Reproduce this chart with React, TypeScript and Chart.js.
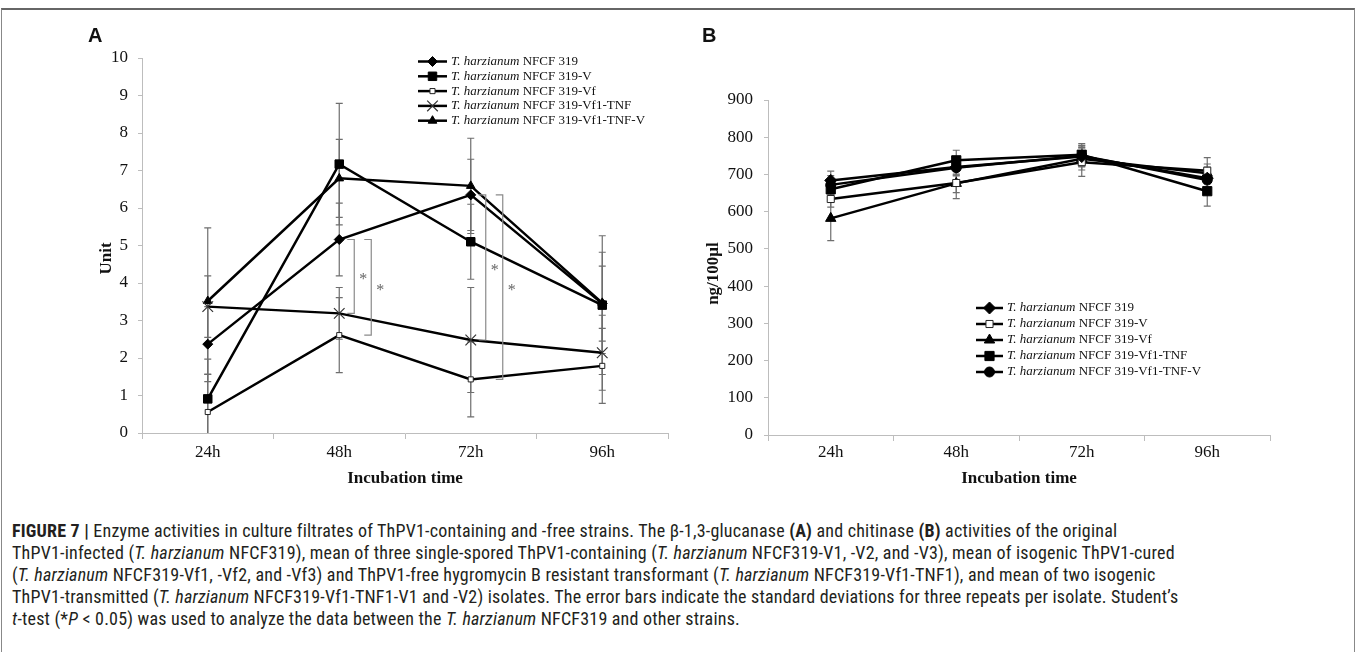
import React, { useEffect, useRef } from 'react';
import { Chart, registerables } from 'chart.js';
import { drawPoint } from 'chart.js/helpers';

Chart.register(...registerables);

const SERIF = "'Liberation Serif', 'Times New Roman', serif";
const PREFIX = 'T. harzianum';

// ---------- data ----------
const categories = ['24h', '48h', '72h', '96h'];

const seriesLabels = [
  'T. harzianum NFCF 319',
  'T. harzianum NFCF 319-V',
  'T. harzianum NFCF 319-Vf',
  'T. harzianum NFCF 319-Vf1-TNF',
  'T. harzianum NFCF 319-Vf1-TNF-V',
];

// Panel A: beta-1,3-glucanase (Unit)
const a319 = [2.37, 5.16, 6.35, 3.45];
const a319V = [0.91, 7.17, 5.1, 3.41];
const a319Vf = [0.56, 2.61, 1.43, 1.79];
const a319TNF = [3.37, 3.19, 2.48, 2.14];
const a319TNFV = [3.52, 6.79, 6.59, 3.47];

const sdA319 = [1.0, 0.97, 0.95, 1.0];
const sdA319V = [1.06, 1.62, 1.0, 1.85];
const sdA319Vf = [1.0, 1.0, 1.0, 1.0];
const sdA319TNF = [0.82, 0.69, 1.4, 1.0];
const sdA319TNFV = [1.95, 1.04, 1.27, 1.35];

// significance brackets: [category index, series index (top), series index (bottom)]
const sigA = [
  [1, 0, 3],
  [1, 0, 2],
  [2, 0, 3],
  [2, 0, 2],
];
const sigMark = '*';

const yTicksA = { min: 0, max: 10, step: 1 };
const yTitleA = 'Unit';

// Panel B: chitinase (ng/100µl)
const b319 = [684, 720, 748, 690];
const b319V = [634, 677, 733, 710];
const b319Vf = [582, 676, 742, 703];
const b319TNF = [660, 738, 753, 655];
const b319TNFV = [672, 718, 750, 685];

const sdB319 = [25, 22, 28, 30];
const sdB319V = [22, 42, 38, 35];
const sdB319Vf = [60, 25, 30, 25];
const sdB319TNF = [28, 27, 30, 40];
const sdB319TNFV = [25, 22, 28, 30];

const yTicksB = { min: 0, max: 900, step: 100 };
const yTitleB = 'ng/100µl';

const xTitle = 'Incubation time';

// ---------- plugins ----------
const errorBarPlugin = {
  id: 'errorBars',
  beforeDatasetsDraw(chart: any, _a: any, opts: any) {
    const { ctx, chartArea, scales } = chart;
    const x = scales.x, y = scales.y;
    ctx.save();
    ctx.beginPath();
    ctx.rect(chartArea.left - 20, chartArea.top - 40, chartArea.width + 40, chartArea.bottom - chartArea.top + 40);
    ctx.clip();
    ctx.strokeStyle = opts.color || '#6e6e6e';
    ctx.lineWidth = opts.width || 1.2;
    const cap = opts.cap || 3.5;
    chart.data.datasets.forEach((ds: any) => {
      const err = ds.errors;
      if (!err) return;
      ds.data.forEach((v: number, i: number) => {
        const px = x.getPixelForValue(i);
        const yt = y.getPixelForValue(v + err[i]);
        const yb = y.getPixelForValue(v - err[i]);
        ctx.beginPath();
        ctx.moveTo(px, yt);
        ctx.lineTo(px, yb);
        ctx.moveTo(px - cap, yt);
        ctx.lineTo(px + cap, yt);
        ctx.moveTo(px - cap, yb);
        ctx.lineTo(px + cap, yb);
        ctx.stroke();
      });
    });
    ctx.restore();
  },
};

const bracketPlugin = {
  id: 'sigBrackets',
  afterDatasetsDraw(chart: any, _a: any, opts: any) {
    const items = opts.items;
    if (!items || !items.length) return;
    const { ctx, scales } = chart;
    const x = scales.x, y = scales.y;
    const ds = chart.data.datasets;
    const offsets = opts.offsets || [15, 32];
    const count: Record<number, number> = {};
    ctx.save();
    ctx.strokeStyle = opts.color || '#8a8a8a';
    ctx.lineWidth = 1.2;
    for (let k = 0; k < items.length; k++) {
      const [cat, a, b] = items[k];
      const n = count[cat] || 0;
      count[cat] = n + 1;
      const bx = x.getPixelForValue(cat) + offsets[n];
      const y1 = y.getPixelForValue(ds[a].data[cat]);
      const y2 = y.getPixelForValue(ds[b].data[cat]);
      const arm = 7;
      ctx.beginPath();
      ctx.moveTo(bx - arm, y1);
      ctx.lineTo(bx, y1);
      ctx.lineTo(bx, y2);
      ctx.lineTo(bx - arm, y2);
      ctx.stroke();
      ctx.fillStyle = opts.starColor || '#666';
      ctx.font = `16px ${SERIF}`;
      ctx.textAlign = 'center';
      ctx.textBaseline = 'alphabetic';
      ctx.fillText(opts.mark, bx + 9, (y1 + y2) / 2 + 8);
    }
    ctx.restore();
  },
};

const legendPlugin = {
  id: 'serifLegend',
  afterDraw(chart: any, _a: any, opts: any) {
    if (!opts || !opts.show) return;
    const { ctx } = chart;
    ctx.save();
    chart.data.datasets.forEach((ds: any, i: number) => {
      const y = opts.y + i * opts.pitch;
      const x0 = opts.x;
      const x1 = opts.x + opts.symbolWidth;
      ctx.strokeStyle = '#000';
      ctx.lineWidth = 2.5;
      ctx.beginPath();
      ctx.moveTo(x0, y);
      ctx.lineTo(x1, y);
      ctx.stroke();
      ctx.fillStyle = ds.pointBackgroundColor;
      ctx.strokeStyle = ds.pointBorderColor;
      ctx.lineWidth = ds.pointBorderWidth;
      drawPoint(ctx, { pointStyle: ds.pointStyle, radius: ds.pointRadius, borderWidth: ds.pointBorderWidth, rotation: 0 } as any, (x0 + x1) / 2, y);
      const label: string = ds.label;
      let tx = x1 + opts.gap;
      ctx.textAlign = 'left';
      ctx.textBaseline = 'middle';
      ctx.fillStyle = '#111';
      ctx.font = `italic ${opts.size}px ${SERIF}`;
      ctx.fillText(PREFIX, tx, y);
      tx += ctx.measureText(PREFIX).width;
      ctx.font = `${opts.size}px ${SERIF}`;
      ctx.fillText(label.slice(PREFIX.length), tx, y);
    });
    ctx.restore();
  },
};

// y-axis title, placed beside the y scale (shifted a little below its centre as in the original)
const yTitlePlugin = {
  id: 'yTitleShift',
  afterDraw(chart: any, _a: any, opts: any) {
    if (!opts || !opts.text) return;
    const { ctx, chartArea } = chart;
    ctx.save();
    ctx.translate(opts.x, (chartArea.top + chartArea.bottom) / 2 + opts.dy);
    ctx.rotate(-Math.PI / 2);
    ctx.font = `bold 17px ${SERIF}`;
    ctx.fillStyle = '#111';
    ctx.textAlign = 'center';
    ctx.textBaseline = 'middle';
    ctx.fillText(opts.text, 0, 0);
    ctx.restore();
  },
};

// ---------- config helpers ----------
function mkDs(label: string, data: number[], errors: number[], pointStyle: string, radius: number, fill: string, pbw = 1, pbc = '#000') {
  return {
    label,
    data,
    errors,
    pointStyle,
    pointRadius: radius,
    pointHoverRadius: radius,
    pointBackgroundColor: fill,
    pointBorderColor: pbc,
    pointBorderWidth: pbw,
    borderColor: '#000',
    borderWidth: 2.5,
    tension: 0,
    fill: false,
  };
}

const AXIS = '#bdbdbd';

function mkOptions(p: {
  padLeft: number; padRight: number; padTop: number; yWidth: number; xHeight: number;
  yTitle: any; yTickPad: number; xTickPad: number; ticks: { min: number; max: number; step: number };
  legend: any; sig: any;
}) {
  return {
    responsive: false,
    animation: false,
    events: [],
    layout: { padding: { left: p.padLeft, right: p.padRight, top: p.padTop, bottom: 0 } },
    plugins: {
      legend: { display: false },
      tooltip: { enabled: false },
      serifLegend: p.legend,
      errorBars: { color: '#6e6e6e', width: 1.2, cap: 3.5 },
      sigBrackets: p.sig,
      yTitleShift: p.yTitle,
    },
    scales: {
      x: {
        type: 'category',
        offset: true,
        grid: { offset: true, drawOnChartArea: false, drawTicks: true, tickLength: 6, color: AXIS, lineWidth: 1 },
        border: { display: true, color: AXIS, width: 1 },
        ticks: { color: '#111', font: { family: SERIF, size: 17 }, padding: p.xTickPad, maxRotation: 0, autoSkip: false },
        title: { display: true, text: xTitle, color: '#111', font: { family: SERIF, size: 17, weight: 'bold' }, padding: { top: 0, bottom: 6 } },
        afterFit: (s: any) => { s.height = p.xHeight; },
      },
      y: {
        type: 'linear',
        min: p.ticks.min,
        max: p.ticks.max,
        ticks: { stepSize: p.ticks.step, color: '#111', font: { family: SERIF, size: 17 }, padding: p.yTickPad },
        grid: { drawOnChartArea: false, drawTicks: true, tickLength: 4, color: AXIS, lineWidth: 1 },
        border: { display: true, color: AXIS, width: 1 },
        title: { display: false },
        afterFit: (s: any) => { s.width = p.yWidth; },
      },
    },
  };
}

function configA() {
  return {
    type: 'line',
    data: {
      labels: categories,
      datasets: [
        mkDs(seriesLabels[0], a319, sdA319, 'rectRot', 5, '#000'),
        mkDs(seriesLabels[1], a319V, sdA319V, 'rect', 6, '#000'),
        mkDs(seriesLabels[2], a319Vf, sdA319Vf, 'rect', 3.6, '#fff', 1, '#222'),
        mkDs(seriesLabels[3], a319TNF, sdA319TNF, 'crossRot', 7.5, '#fff', 1.2, '#333'),
        mkDs(seriesLabels[4], a319TNFV, sdA319TNFV, 'triangle', 5, '#000'),
      ],
    },
    options: mkOptions({
      padLeft: 82, padRight: 32, padTop: 58, yWidth: 60, xHeight: 62,
      yTitle: { text: yTitleA, x: 107, dy: 13 }, yTickPad: 10, xTickPad: 3, ticks: yTicksA,
      legend: { show: true, x: 418, y: 61.5, pitch: 14.8, symbolWidth: 29, gap: 4, size: 13 },
      sig: { items: sigA, offsets: [15, 32], mark: sigMark, color: '#8a8a8a', starColor: '#666' },
    }),
    plugins: [errorBarPlugin, bracketPlugin, legendPlugin, yTitlePlugin],
  };
}

function configB() {
  return {
    type: 'line',
    data: {
      labels: categories,
      datasets: [
        mkDs(seriesLabels[0], b319, sdB319, 'rectRot', 6, '#000'),
        mkDs(seriesLabels[1], b319V, sdB319V, 'rect', 5, '#fff', 1, '#222'),
        mkDs(seriesLabels[2], b319Vf, sdB319Vf, 'triangle', 6, '#000'),
        mkDs(seriesLabels[3], b319TNF, sdB319TNF, 'rect', 6.5, '#000'),
        mkDs(seriesLabels[4], b319TNFV, sdB319TNFV, 'circle', 5, '#000'),
      ],
    },
    options: mkOptions({
      padLeft: 0, padRight: 88, padTop: 100, yWidth: 68, xHeight: 60,
      yTitle: { text: yTitleB, x: 14, dy: 6 }, yTickPad: 11, xTickPad: 1, ticks: yTicksB,
      legend: { show: true, x: 276, y: 308, pitch: 16, symbolWidth: 27, gap: 4, size: 13 },
      sig: { items: [], mark: sigMark },
    }),
    plugins: [errorBarPlugin, bracketPlugin, legendPlugin, yTitlePlugin],
  };
}

function ChartCanvas({ make, left, width, height }: { make: () => any; left: number; width: number; height: number }) {
  const ref = useRef<HTMLCanvasElement>(null);
  useEffect(() => {
    const chart = new Chart(ref.current as HTMLCanvasElement, make());
    return () => chart.destroy();
  }, []);
  return (
    <canvas
      ref={ref}
      width={width}
      height={height}
      style={{ position: 'absolute', left, top: 0, width, height, display: 'block' }}
    />
  );
}

const SANS_NARROW = "'Roboto Condensed', 'Liberation Sans Narrow', 'Arial Narrow', sans-serif";

const captionLines: React.ReactNode[] = [
  <>
    <b>FIGURE 7 |</b> Enzyme activities in culture filtrates of ThPV1-containing and -free strains. The β-1,3-glucanase <b>(A)</b> and chitinase <b>(B)</b> activities of the original
  </>,
  <>
    ThPV1-infected (<i>T. harzianum</i> NFCF319), mean of three single-spored ThPV1-containing (<i>T. harzianum</i> NFCF319-V1, -V2, and -V3), mean of isogenic ThPV1-cured
  </>,
  <>
    (<i>T. harzianum</i> NFCF319-Vf1, -Vf2, and -Vf3) and ThPV1-free hygromycin B resistant transformant (<i>T. harzianum</i> NFCF319-Vf1-TNF1), and mean of two isogenic
  </>,
  <>
    ThPV1-transmitted (<i>T. harzianum</i> NFCF319-Vf1-TNF1-V1 and -V2) isolates. The error bars indicate the standard deviations for three repeats per isolate. Student’s
  </>,
  <>
    <i>t</i>-test (*<i>P</i> {'<'} 0.05) was used to analyze the data between the <i>T. harzianum</i> NFCF319 and other strains.
  </>,
];

export default function App() {
  return (
    <div style={{ position: 'fixed', left: 0, top: 0, width: 1358, height: 652, background: '#fff', overflow: 'hidden' }}>
      <div
        style={{
          position: 'absolute', left: 1, top: 8, width: 1354, height: 700,
          borderTop: '2px solid #666', borderLeft: '1px solid #888', borderRight: '1px solid #888',
          boxSizing: 'border-box',
        }}
      />
      <ChartCanvas make={configA} left={0} width={700} height={495} />
      <ChartCanvas make={configB} left={700} width={658} height={495} />
      <div style={{ position: 'absolute', left: 88, top: 25, fontFamily: "'Liberation Sans', Arial, sans-serif", fontWeight: 'bold', fontSize: 20, lineHeight: '20px', color: '#111' }}>A</div>
      <div style={{ position: 'absolute', left: 702, top: 25, fontFamily: "'Liberation Sans', Arial, sans-serif", fontWeight: 'bold', fontSize: 20, lineHeight: '20px', color: '#111' }}>B</div>
      <div style={{ position: 'absolute', left: 12, top: 520, fontFamily: SANS_NARROW, fontSize: 18, letterSpacing: '0.2px', lineHeight: '22px', color: '#231f20' }}>
        {captionLines.map((l, i) => (
          <div key={i} style={{ whiteSpace: 'nowrap' }}>{l}</div>
        ))}
      </div>
    </div>
  );
}
